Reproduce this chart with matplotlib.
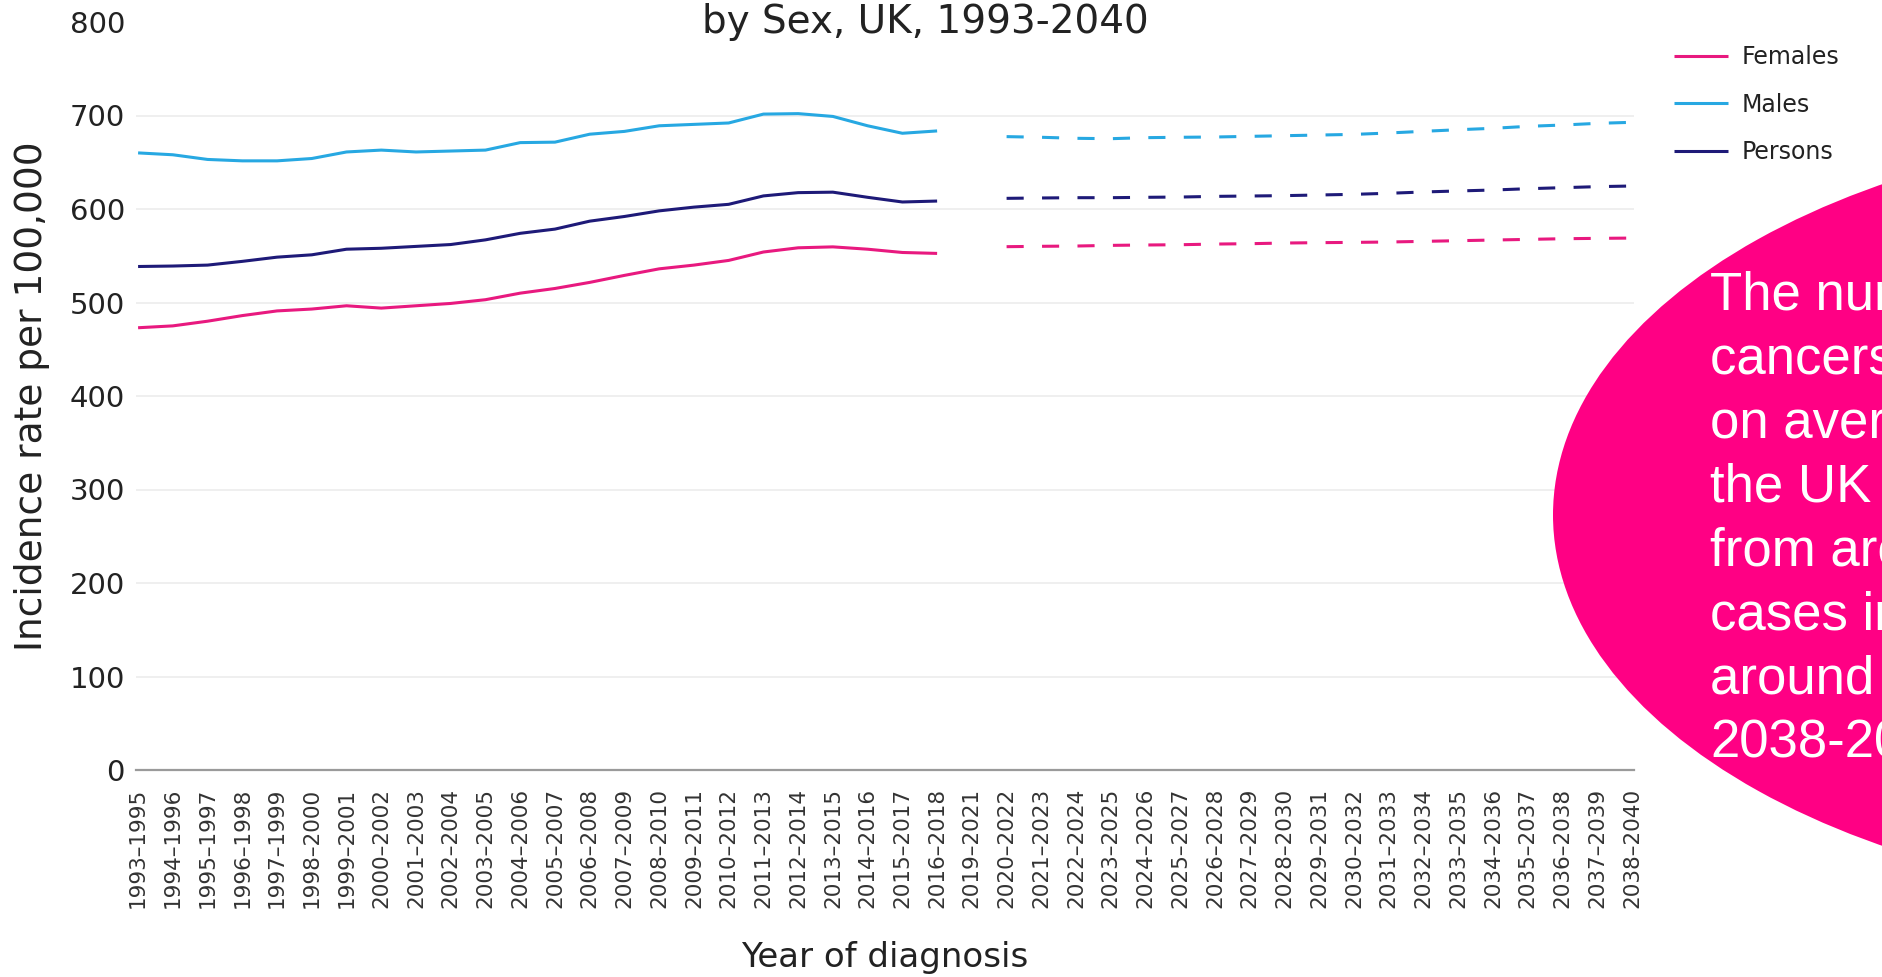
#!/usr/bin/env python3
"""Incidence rates per 100,000 by sex, UK, observed and projected."""

import matplotlib
matplotlib.use("Agg")
import matplotlib.pyplot as plt
from matplotlib.patches import Ellipse

W, H = 1883, 977

periods = [
    "1993–1995", "1994–1996", "1995–1997", "1996–1998", "1997–1999",
    "1998–2000", "1999–2001", "2000–2002", "2001–2003", "2002–2004",
    "2003–2005", "2004–2006", "2005–2007", "2006–2008", "2007–2009",
    "2008–2010", "2009–2011", "2010–2012", "2011–2013", "2012–2014",
    "2013–2015", "2014–2016", "2015–2017", "2016–2018", "2019–2021",
    "2020–2022", "2021–2023", "2022–2024", "2023–2025", "2024–2026",
    "2025–2027", "2026–2028", "2027–2029", "2028–2030", "2029–2031",
    "2030–2032", "2031–2033", "2032–2034", "2033–2035", "2034–2036",
    "2035–2037", "2036–2038", "2037–2039", "2038–2040",
]

# observed: 1993-1995 .. 2016-2018
females_obs = [473, 475, 480, 486, 491, 493, 496.5, 494, 496.5, 499, 503, 510,
               515, 521.5, 529, 536, 540, 545, 554, 558.5, 559.5, 557, 553.5, 552.5]
males_obs = [660, 658, 653, 651.5, 651.5, 654, 661, 663, 661, 662, 663, 671,
             671.5, 680, 683, 689, 690.5, 692, 701.5, 702, 699, 689, 681, 683.5]
persons_obs = [538.5, 539, 540, 544, 548.5, 551, 557, 558, 560, 562, 567, 574,
               578.5, 587, 592, 598, 602, 605, 614, 617.5, 618, 612.5, 607.5, 608.5]

# projected: 2020-2022 .. 2038-2040
females_proj = [559.7, 560.1, 560.4, 561.1, 561.5, 561.8, 562.5, 562.9, 563.6, 564.0,
                564.3, 564.7, 565.4, 566.1, 566.8, 567.5, 568.2, 568.6, 568.9]
males_proj = [677.4, 676.7, 675.6, 675.2, 676.3, 676.7, 677.0, 677.7, 678.4, 679.1,
              679.8, 681.3, 683.1, 684.8, 686.3, 688.4, 689.8, 691.6, 692.7]
persons_proj = [611.4, 611.8, 612.1, 612.1, 612.5, 612.8, 613.5, 613.9, 614.3, 615.0,
                615.7, 616.8, 618.2, 619.3, 620.3, 621.7, 622.8, 623.9, 624.6]

y_ticks = [0, 100, 200, 300, 400, 500, 600, 700, 800]

note_lines = [
    "The number of new",
    "cancers diagnosed",
    "on average each year in",
    "the UK is projected to rise",
    "from around 367,000",
    "cases in 2015-2017 to",
    "around 506,000 cases in",
    "2038-2040",
]

PINK = "#e8197f"
BLUE = "#27a8e2"
NAVY = "#1e1a78"
TXT = "#222222"

plt.rcParams["font.family"] = ["DejaVu Sans"]

fig = plt.figure(figsize=(W / 100, H / 100), dpi=100)
ax = fig.add_axes([136 / W, 1 - 770 / H, (1634 - 136) / W, (770 - 22) / H])

n_obs = len(females_obs)
x_obs = list(range(n_obs))
x_proj = list(range(len(periods) - len(females_proj), len(periods)))

lw = 2.2
dash = (5.6, 6.0)
for obs, proj, col, name in [
    (females_obs, females_proj, PINK, "Females"),
    (males_obs, males_proj, BLUE, "Males"),
    (persons_obs, persons_proj, NAVY, "Persons"),
]:
    ax.plot(x_obs, obs, color=col, lw=lw, label=name, solid_capstyle="butt", zorder=3)
    ax.plot(x_proj, proj, color=col, lw=lw, dashes=dash, zorder=3)

ax.set_xlim(-0.06, len(periods) - 1 + 0.06)
ax.set_ylim(0, 800)
ax.set_xticks(range(len(periods)))
ax.set_xticklabels(periods, rotation=90, fontsize=15.5, color="#333333")
ax.set_yticks(y_ticks)
ax.set_yticklabels([str(v) for v in y_ticks], fontsize=21, color=TXT)
ax.tick_params(axis="x", length=0, pad=13)
ax.tick_params(axis="y", length=0, pad=8)

for s in ["top", "right", "left"]:
    ax.spines[s].set_visible(False)
ax.spines["bottom"].set_color("#9a9a9a")
ax.spines["bottom"].set_linewidth(1.6)

ax.yaxis.grid(True, color="#ebebeb", lw=1.1)
ax.set_axisbelow(True)
ax.yaxis.get_gridlines()[-1].set_visible(False)

fig.text(925 / W, 1 - 22 / H, "by Sex, UK, 1993-2040", ha="center", va="center",
         fontsize=28, color=TXT)
fig.text(32 / W, 1 - 396 / H, "Incidence rate per 100,000", rotation=90,
         ha="center", va="center", fontsize=27, color=TXT)
fig.text(885 / W, 1 - 957 / H, "Year of diagnosis", ha="center", va="center",
         fontsize=24.5, color=TXT)

ax.legend(loc="upper left", bbox_to_anchor=(1674 / W, 1 - 45 / H),
          bbox_transform=fig.transFigure, frameon=False, fontsize=17,
          handlelength=2.3, handletextpad=0.55, labelspacing=1.0,
          borderpad=0, borderaxespad=0)
for t in ax.get_legend().get_texts():
    t.set_color(TXT)

# pink call-out bubble, mostly running off the right edge
a, b = 700, 390
fig.add_artist(Ellipse(((1553 + a) / W, 1 - 515 / H), 2 * a / W, 2 * b / H,
                       transform=fig.transFigure, facecolor="#ff0084",
                       edgecolor="none", zorder=5))
for i, line in enumerate(note_lines):
    fig.text(1710 / W, 1 - (310 + i * 64) / H, line, ha="left", va="baseline",
             fontsize=38, color="white", family=["Liberation Sans", "DejaVu Sans"],
             zorder=6)

fig.savefig("out.png", dpi=100)
